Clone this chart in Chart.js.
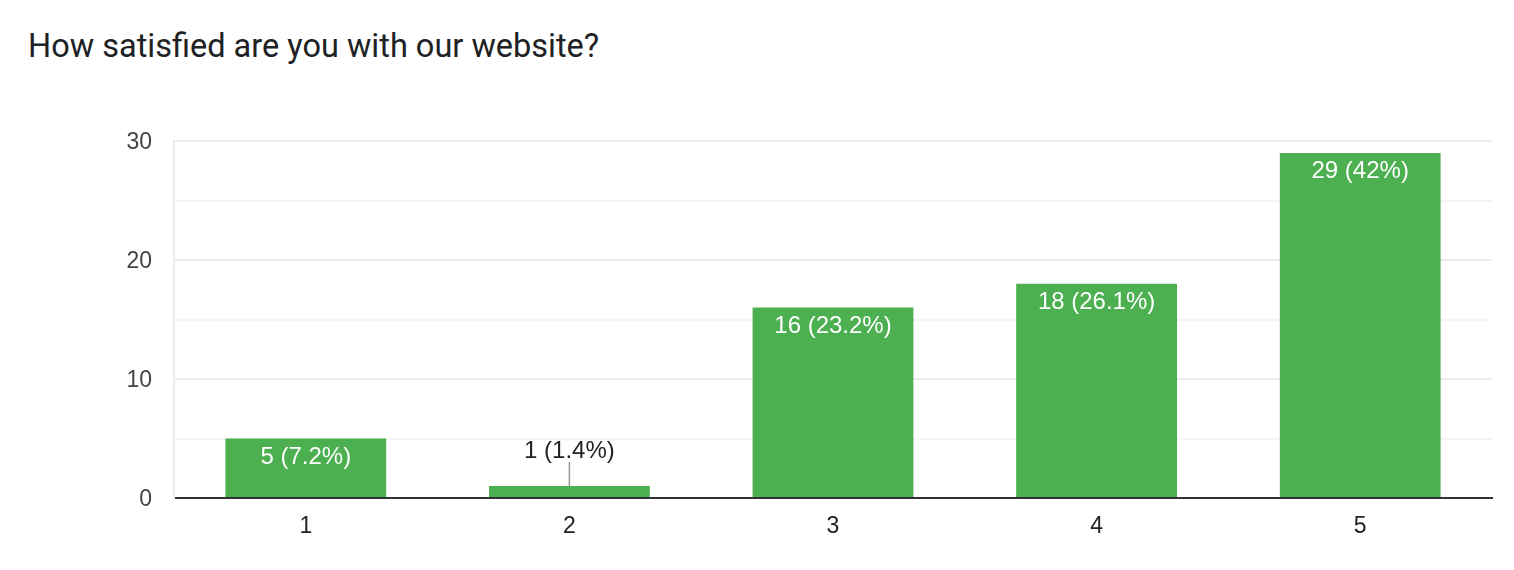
<!DOCTYPE html>
<html>
<head>
<meta charset="utf-8">
<script src="https://cdn.jsdelivr.net/npm/chart.js@4/dist/chart.umd.min.js"></script>
<style>
  html, body { margin:0; padding:0; background:#fff; }
  #wrap { position:relative; width:1514px; height:570px; }
  #title { position:absolute; left:28px; top:27px; font:32.5px Roboto, "Noto Sans", sans-serif; color:#202124; }
  canvas { position:absolute; left:0; top:0; }
</style>
</head>
<body>
<div id="wrap">
  <div id="title">How satisfied are you with our website?</div>
  <canvas id="c" width="1514" height="570"></canvas>
</div>
<script>
const ratings  = ['1', '2', '3', '4', '5'];
const counts   = [5, 1, 16, 18, 29];
const percents = ['7.2%', '1.4%', '23.2%', '26.1%', '42%'];
const yTicks   = [0, 10, 20, 30];

const FONT = '"Liberation Sans", Arial, sans-serif';

// value labels: white inside tall bars, dark with a leader line above short ones
const barLabels = {
  id: 'barLabels',
  afterDatasetsDraw(chart) {
    const ctx = chart.ctx;
    const bars = chart.getDatasetMeta(0).data;
    ctx.save();
    ctx.font = '24px ' + FONT;
    ctx.textAlign = 'center';
    ctx.textBaseline = 'alphabetic';
    bars.forEach((bar, i) => {
      const txt = counts[i] + ' (' + percents[i] + ')';
      const h = bar.base - bar.y;
      if (h > 30) {
        ctx.fillStyle = '#fff';
        ctx.fillText(txt, bar.x, bar.y + 25);
      } else {
        ctx.strokeStyle = '#999';
        ctx.lineWidth = 1.5;
        ctx.beginPath();
        ctx.moveTo(bar.x, bar.y);
        ctx.lineTo(bar.x, bar.y - 24);
        ctx.stroke();
        ctx.fillStyle = '#222';
        ctx.fillText(txt, bar.x, bar.y - 28);
      }
    });
    ctx.restore();
  }
};

new Chart(document.getElementById('c'), {
  type: 'bar',
  data: {
    labels: ratings,
    datasets: [{
      data: counts,
      backgroundColor: '#4caf50',
      categoryPercentage: 1,
      barPercentage: 0.61
    }]
  },
  options: {
    responsive: false,
    animation: false,
    layout: { padding: { top: 141, right: 22, left: 0, bottom: 0 } },
    plugins: { legend: { display:false }, tooltip: { enabled:false }, title: { display:false } },
    scales: {
      x: {
        grid: {
          offset: true,
          drawTicks: false,
          color: c => c.index === ratings.length ? '#ebebeb' : 'transparent',
          lineWidth: 2
        },
        border: { color:'#333', width:2 },
        ticks: { color:'#222', padding:15, font:{ size:23, family:FONT } },
        afterFit: s => { s.height = 72; }
      },
      y: {
        min: 0, max: 30,
        ticks: {
          stepSize: 5,
          padding: 22,
          labelOffset: 2,
          color:'#444',
          font:{ size:23, family:FONT },
          callback: v => yTicks.includes(v) ? v : ''
        },
        grid: {
          drawTicks: false,
          color: c => yTicks.includes(c.tick.value) ? '#ebebeb' : '#f5f5f5',
          lineWidth: 2
        },
        border: { color:'#ebebeb', width:2 },
        afterFit: s => { s.width = 174; }
      }
    }
  },
  plugins: [barLabels]
});
</script>
</body>
</html>
